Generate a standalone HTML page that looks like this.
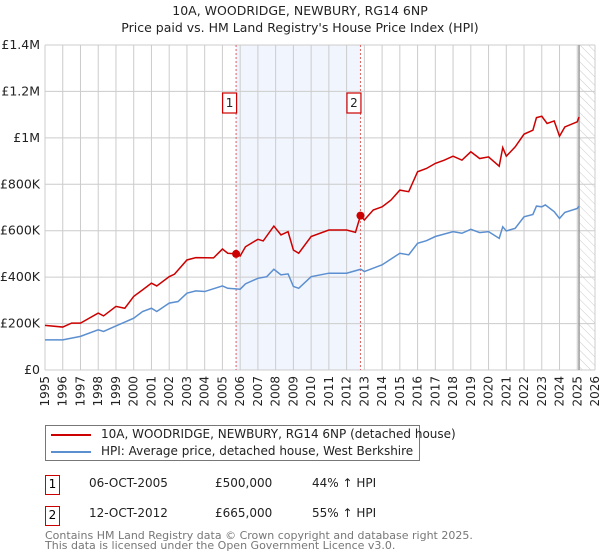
<!DOCTYPE html>
<html><head><meta charset="utf-8"><style>
body{margin:0;background:#fff;font-family:"DejaVu Sans","Liberation Sans",sans-serif;}
#wrap{position:relative;width:600px;height:560px;overflow:hidden}
.t{position:absolute;font-size:13px;color:#222;white-space:nowrap}
.box{position:absolute;border:1.5px solid #c00;font-size:12px;text-align:center;box-sizing:border-box;background:#fff}
</style></head><body>
<div id="wrap">
<svg id="chart" width="600" height="420" style="position:absolute;left:0;top:0"></svg>
<div class="t" style="left:0;width:600px;text-align:center;top:3px;font-size:12.5px">10A, WOODRIDGE, NEWBURY, RG14 6NP</div>
<div class="t" style="left:0;width:600px;text-align:center;top:20px;font-size:12.5px">Price paid vs. HM Land Registry's House Price Index (HPI)</div>
<div style="position:absolute;left:45px;top:425px;width:375px;height:36px;border:1px solid #777;box-sizing:border-box">
 <div style="position:absolute;left:5px;top:8px;width:40px;height:2px;background:#c00"></div>
 <div class="t" style="left:55px;top:1px;font-size:12px">10A, WOODRIDGE, NEWBURY, RG14 6NP (detached house)</div>
 <div style="position:absolute;left:5px;top:25px;width:40px;height:2px;background:#5b8fd0"></div>
 <div class="t" style="left:55px;top:18px;font-size:12px">HPI: Average price, detached house, West Berkshire</div>
</div>
<div class="box" style="left:45px;top:475px;width:15px;height:20px;line-height:17px">1</div>
<div class="t" style="left:89px;top:476px;font-size:12px">06-OCT-2005</div>
<div class="t" style="left:215px;top:476px;font-size:12px">£500,000</div>
<div class="t" style="left:312px;top:476px;font-size:12px">44% ↑ HPI</div>
<div class="box" style="left:45px;top:506px;width:15px;height:20px;line-height:17px">2</div>
<div class="t" style="left:89px;top:506px;font-size:12px">12-OCT-2012</div>
<div class="t" style="left:215px;top:506px;font-size:12px">£665,000</div>
<div class="t" style="left:312px;top:506px;font-size:12px">55% ↑ HPI</div>
<div class="t" style="left:45px;top:531px;font-size:11px;color:#777;line-height:10px">Contains HM Land Registry data © Crown copyright and database right 2025.<br>This data is licensed under the Open Government Licence v3.0.</div>
</div>
<script>
const yearTicks=[1995,1996,1997,1998,1999,2000,2001,2002,2003,2004,2005,2006,2007,2008,2009,2010,2011,2012,2013,2014,2015,2016,2017,2018,2019,2020,2021,2022,2023,2024,2025,2026];
const valueTicks=[0,200000,400000,600000,800000,1000000,1200000,1400000];
const valueTickLabels=["£0","£200K","£400K","£600K","£800K","£1M","£1.2M","£1.4M"];
const hpiDates=[1995,1996,1997,1998,1998.3,1999,2000,2000.5,2001,2001.3,2002,2002.5,2003,2003.5,2004,2005,2005.3,2006,2006.3,2007,2007.5,2007.9,2008.3,2008.7,2009,2009.3,2010,2011,2012,2012.8,2013,2014,2015,2015.5,2016,2016.5,2017,2018,2018.5,2019,2019.5,2020,2020.6,2020.8,2021,2021.5,2022,2022.5,2022.7,2023,2023.2,2023.7,2024,2024.3,2025,2025.1];
const hpiValues=[130000,130000,145000,173000,166000,190000,223000,252000,266000,252000,288000,295000,331000,341000,338000,362000,352000,348000,371000,395000,402000,434000,410000,414000,360000,352000,402000,417000,417000,434000,424000,453000,503000,496000,546000,557000,575000,596000,589000,606000,592000,596000,567000,617000,599000,610000,660000,670000,706000,703000,711000,682000,653000,679000,696000,706000];
const propDates=[1995,1996,1996.5,1997,1998,1998.3,1999,1999.5,2000,2000.5,2001,2001.3,2002,2002.3,2003,2003.5,2004.5,2005,2005.3,2005.77,2006,2006.3,2007,2007.3,2007.9,2008.3,2008.7,2009,2009.3,2010,2011,2012,2012.5,2012.78,2013,2013.5,2014,2014.5,2015,2015.5,2016,2016.5,2017,2017.5,2018,2018.5,2019,2019.5,2020,2020.6,2020.8,2021,2021.5,2022,2022.5,2022.7,2023,2023.3,2023.7,2024,2024.3,2025,2025.1];
const propValues=[192000,185000,202000,202000,245000,233000,274000,266000,317000,345000,374000,362000,402000,413000,474000,484000,483000,521000,503000,500000,491000,531000,563000,556000,620000,582000,596000,517000,503000,575000,603000,603000,593000,665000,646000,689000,703000,732000,775000,768000,854000,868000,890000,904000,921000,904000,940000,911000,918000,878000,958000,921000,961000,1016000,1033000,1087000,1093000,1062000,1073000,1007000,1047000,1069000,1090000];
const saleDates=[2005.77,2012.78];
const salePrices=[500000,665000];
const saleLabels=["1","2"];
const dataEnd=2025.1;

const L=45,R=595,T=45,B=370;
const xs=y=>L+(y-1995)/(2026-1995)*(R-L);
const ys=v=>B-v/1400000*(B-T);
const svg=document.getElementById('chart');
const NS='http://www.w3.org/2000/svg';
function mk(tag,attrs){const e=document.createElementNS(NS,tag);for(const k in attrs)e.setAttribute(k,attrs[k]);svg.appendChild(e);return e;}
const defs=mk('defs',{});
defs.innerHTML='<pattern id="h" width="6" height="6" patternUnits="userSpaceOnUse" patternTransform="rotate(-45)"><line x1="0" y1="0" x2="0" y2="6" stroke="#ccc" stroke-width="1"/></pattern>';
let sh=mk('rect',{x:xs(saleDates[0]),y:T,width:xs(saleDates[1])-xs(saleDates[0]),height:B-T,fill:'#eef3fc',opacity:0.8});


let hr=mk('rect',{x:xs(dataEnd),y:T,width:R-xs(dataEnd),height:B-T,fill:'url(#h)'});


yearTicks.forEach(y=>{
 let g=mk('line',{x1:xs(y),x2:xs(y),y1:T,y2:B,stroke:'#ccc','stroke-width':1});
 
 
 let t=mk('text',{x:0,y:0,'font-size':12,fill:'#222','text-anchor':'end',transform:`translate(${xs(y)+4},${B+6}) rotate(-90)`});
 t.textContent=y;
 
 
});
valueTicks.forEach((v,i)=>{
 let g=mk('line',{x1:L,x2:R,y1:ys(v),y2:ys(v),stroke:'#ccc','stroke-width':1});
 
 
 let t=mk('text',{x:L-5,y:ys(v)+4,'font-size':12.5,fill:'#222','text-anchor':'end'});
 t.textContent=valueTickLabels[i];
 
 
});
let el=mk('line',{x1:xs(dataEnd),x2:xs(dataEnd),y1:T,y2:B,stroke:'#999','stroke-width':1.5});


saleDates.forEach((d,i)=>{
 let l=mk('line',{x1:xs(d),x2:xs(d),y1:T,y2:B,stroke:'#e06060','stroke-width':1,'stroke-dasharray':'2,2'});
 
 
});
let hp=mk('polyline',{points:hpiDates.map((d,i)=>xs(d)+','+ys(hpiValues[i])).join(' '),fill:'none',stroke:'#5b8fd0','stroke-width':1.5});


let pp=mk('polyline',{points:propDates.map((d,i)=>xs(d)+','+ys(propValues[i])).join(' '),fill:'none',stroke:'#c00','stroke-width':1.5});


saleDates.forEach((d,i)=>{
 let c=mk('circle',{cx:xs(d),cy:ys(salePrices[i]),r:4,fill:'#c00'});
 
 
 let b=mk('rect',{x:xs(d)-13.5,y:93,width:14,height:20,fill:'#fff',stroke:'#c00','stroke-width':1.2});
 
 
 let t=mk('text',{x:xs(d)-6.5,y:107,'font-size':12,fill:'#222','text-anchor':'middle'});
 t.textContent=saleLabels[i];
 
 
});
</script>
</body></html>
